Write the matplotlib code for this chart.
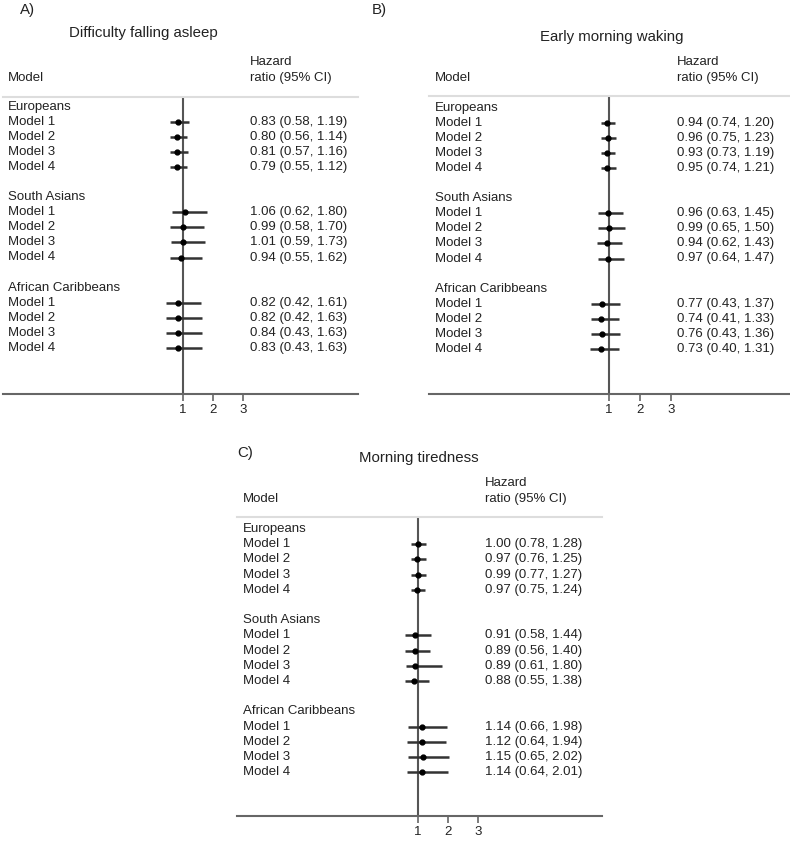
import matplotlib
matplotlib.use("Agg")
import matplotlib.pyplot as plt

plt.rcParams["font.family"] = ["Liberation Sans", "DejaVu Sans"]

W, H = 790, 841

groups = ["Europeans", "South Asians", "African Caribbeans"]
models = ["Model 1", "Model 2", "Model 3", "Model 4"]
titles = ["Difficulty falling asleep", "Early morning waking", "Morning tiredness"]
letters = ["A)", "B)", "C)"]
ticks = [1, 2, 3]

# hazard ratios and 95% CI, 4 models per group (Europeans, South Asians, African Caribbeans)
hr_a = [0.83, 0.80, 0.81, 0.79, 1.06, 0.99, 1.01, 0.94, 0.82, 0.82, 0.84, 0.83]
lo_a = [0.58, 0.56, 0.57, 0.55, 0.62, 0.58, 0.59, 0.55, 0.42, 0.42, 0.43, 0.43]
hi_a = [1.19, 1.14, 1.16, 1.12, 1.80, 1.70, 1.73, 1.62, 1.61, 1.63, 1.63, 1.63]

hr_b = [0.94, 0.96, 0.93, 0.95, 0.96, 0.99, 0.94, 0.97, 0.77, 0.74, 0.76, 0.73]
lo_b = [0.74, 0.75, 0.73, 0.74, 0.63, 0.65, 0.62, 0.64, 0.43, 0.41, 0.43, 0.40]
hi_b = [1.20, 1.23, 1.19, 1.21, 1.45, 1.50, 1.43, 1.47, 1.37, 1.33, 1.36, 1.31]

hr_c = [1.00, 0.97, 0.99, 0.97, 0.91, 0.89, 0.89, 0.88, 1.14, 1.12, 1.15, 1.14]
lo_c = [0.78, 0.76, 0.77, 0.75, 0.58, 0.56, 0.61, 0.55, 0.66, 0.64, 0.65, 0.64]
hi_c = [1.28, 1.25, 1.27, 1.24, 1.44, 1.40, 1.80, 1.38, 1.98, 1.94, 2.02, 2.01]

# panel layout in pixels
layouts = [
    dict(left=3, right=358, top=97, bottom=394, x1=183, unit=30, row0=107, step=15.05,
         lab_x=8, val_x=250, title_x=143, title_y=33, let_x=20, let_y=10, head_y=62),
    dict(left=429, right=790, top=96, bottom=394, x1=609, unit=31, row0=108, step=15.05,
         lab_x=435, val_x=677, title_x=612, title_y=37, let_x=372, let_y=10, head_y=62),
    dict(left=237, right=602, top=517, bottom=816, x1=418, unit=30, row0=529, step=15.2,
         lab_x=243, val_x=485, title_x=419, title_y=458, let_x=237, let_y=453, head_y=483),
]
data = [(hr_a, lo_a, hi_a), (hr_b, lo_b, hi_b), (hr_c, lo_c, hi_c)]

txt = "#222222"
fig = plt.figure(figsize=(W / 100, H / 100), dpi=100)

for p, (L, (hr, lo, hi)) in enumerate(zip(layouts, data)):
    ax = fig.add_axes([L["left"] / W, 1 - L["bottom"] / H,
                       (L["right"] - L["left"]) / W, (L["bottom"] - L["top"]) / H])
    ax.set_xlim(1 - (L["x1"] - L["left"]) / L["unit"], 1 + (L["right"] - L["x1"]) / L["unit"])
    ax.set_ylim((L["bottom"] - L["row0"]) / L["step"], (L["top"] - L["row0"]) / L["step"])

    def px(x):
        return 1 + (x - L["x1"]) / L["unit"]

    def row(y):
        return (y - L["row0"]) / L["step"]

    rows = []
    for g, grp in enumerate(groups):
        ax.text(px(L["lab_x"]), g * 6, grp, fontsize=9.5, color=txt, va="center")
        for m, mod in enumerate(models):
            r = g * 6 + m + 1
            rows.append(r)
            ax.text(px(L["lab_x"]), r, mod, fontsize=9.5, color=txt, va="center")
            i = g * 4 + m
            ax.text(px(L["val_x"]), r, f"{hr[i]:.2f} ({lo[i]:.2f}, {hi[i]:.2f})",
                    fontsize=9.5, color=txt, va="center")

    ax.axvline(1, color="#555555", lw=1.5, zorder=1)
    ax.hlines(rows, lo, hi, color="#333333", lw=1.8, zorder=2)
    ax.plot(hr, rows, "o", ms=3.5, color="black", zorder=3)

    # header
    ax.text(px(L["lab_x"]), row(L["head_y"] + 16), "Model", fontsize=9.5, color=txt, va="center")
    ax.text(px(L["val_x"]), row(L["head_y"]), "Hazard", fontsize=9.5, color=txt, va="center")
    ax.text(px(L["val_x"]), row(L["head_y"] + 16), "ratio (95% CI)", fontsize=9.5,
            color=txt, va="center")

    for s in ["left", "right"]:
        ax.spines[s].set_visible(False)
    ax.spines["top"].set_color("#dddddd")
    ax.spines["top"].set_linewidth(1.5)
    ax.spines["bottom"].set_color("#666666")
    ax.spines["bottom"].set_linewidth(1.5)
    ax.set_yticks([])
    ax.set_xticks(ticks)
    ax.tick_params(axis="x", direction="out", length=5, width=1.2, color="#666666",
                   labelsize=9.5, labelcolor=txt, pad=2)
    ax.set_facecolor("none")

    fig.text(L["title_x"] / W, 1 - L["title_y"] / H, titles[p], fontsize=10.8, color=txt,
             ha="center", va="center")
    fig.text(L["let_x"] / W, 1 - L["let_y"] / H, letters[p], fontsize=10.8, color=txt,
             ha="left", va="center")

fig.savefig("out.png", dpi=100)
